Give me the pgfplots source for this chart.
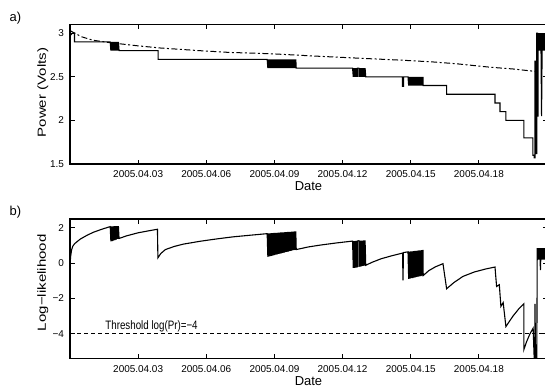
\documentclass[border=0pt]{standalone}
\usepackage{pgfplots}
\pgfplotsset{compat=1.18}
\usepackage{fontspec}
\setmainfont{Liberation Sans}
\begin{document}
\begin{tikzpicture}[x=1bp,y=1bp]
\useasboundingbox (0,0) rectangle (545,387);
\pgfplotsset{
  myax/.style={
    scale only axis, width=477bp, height=139.5bp,
    xmin=0, xmax=21,
    xtick={3,6,9,12,15,18},
    xticklabels={2005.04.03,2005.04.06,2005.04.09,2005.04.12,2005.04.15,2005.04.18},
    tick align=inside, major tick length=4.5bp,
    every tick/.style={black, line width=0.9bp},
    axis line style={line width=1.4bp},
    ticklabel style={font=\fontsize{10}{12}\selectfont},
    /pgf/number format/assume math mode=true,
    xticklabel style={anchor=base, yshift=-13.8bp},
    yticklabel style={anchor=east, xshift=-2.6bp},
    xlabel=Date,
    xlabel style={font=\fontsize{13}{15}\selectfont, at={(axis description cs:0.5,0)}, anchor=base, yshift=-26.8bp},
    ylabel style={font=\fontsize{11.8}{14}\selectfont, anchor=center},
    clip=true,
  }
}
% ---------------- a) ----------------
\begin{axis}[myax, at={(70bp,223bp)}, anchor=south west,
  ymin=1.5, ymax=3.1,
  ytick={1.5,2,2.5,3}, yticklabels={1.5,2,2.5,3},
  ylabel={\scalebox{1.28}[1]{Power (Volts)}},
  ylabel style={at={(axis description cs:-0.057,0.512)}},
]
\addplot[black, line width=1bp, dash pattern=on 6bp off 2.5bp on 2bp off 2.5bp] coordinates {
(0,3.03)(0.5,2.96)(1,2.92)(1.8,2.89)(3,2.855)(4,2.83)(5.7,2.80)(7,2.78)(8.8,2.765)(11,2.735)(13,2.71)(14.66,2.69)(16,2.67)(17,2.65)(18.5,2.61)(19.5,2.59)(20.55,2.56)
};
\addplot[black, line width=1.1bp] coordinates {
(0,2.97)(0.1,3.0)(0.2,3.0)(0.2,2.9)(1.77,2.9)
(1.80,2.8)(1.83,2.9)(1.86,2.8)(1.89,2.9)(1.92,2.8)(1.95,2.9)(1.98,2.8)(2.01,2.9)(2.04,2.8)(2.07,2.9)(2.10,2.8)(2.13,2.9)(2.16,2.8)
(3.88,2.8)(3.88,2.7)(8.68,2.7)
(8.71,2.6)(8.74,2.7)(8.77,2.6)(8.80,2.7)(8.83,2.6)(8.86,2.7)(8.89,2.6)(8.92,2.7)(8.95,2.6)(8.98,2.7)
(9.01,2.6)(9.04,2.7)(9.07,2.6)(9.10,2.7)(9.13,2.6)(9.16,2.7)(9.19,2.6)(9.22,2.7)(9.25,2.6)(9.28,2.7)
(9.31,2.6)(9.34,2.7)(9.37,2.6)(9.40,2.7)(9.43,2.6)(9.46,2.7)(9.49,2.6)(9.52,2.7)(9.55,2.6)(9.58,2.7)
(9.61,2.6)(9.64,2.7)(9.67,2.6)(9.70,2.7)(9.73,2.6)(9.76,2.7)(9.79,2.6)(9.82,2.7)(9.85,2.6)(9.88,2.7)
(9.91,2.6)(9.94,2.7)(9.96,2.6)
(12.44,2.6)
(12.47,2.5)(12.50,2.6)(12.53,2.5)(12.56,2.6)(12.59,2.5)(12.62,2.6)(12.65,2.5)(12.65,2.6)(12.72,2.6)
(12.72,2.5)(12.75,2.6)(12.78,2.5)(12.81,2.6)(12.84,2.5)(12.87,2.6)(12.90,2.5)(12.93,2.6)(12.96,2.5)(12.99,2.6)(13.02,2.5)
(14.64,2.5)(14.64,2.39)(14.68,2.39)(14.68,2.5)(14.88,2.5)
(14.91,2.4)(14.94,2.5)(14.97,2.4)(15.00,2.5)(15.03,2.4)(15.06,2.5)(15.09,2.4)(15.12,2.5)(15.15,2.4)(15.18,2.5)
(15.21,2.4)(15.24,2.5)(15.27,2.4)(15.30,2.5)(15.33,2.4)(15.36,2.5)(15.39,2.4)(15.42,2.5)(15.45,2.4)(15.48,2.5)
(15.51,2.4)(15.54,2.5)(15.55,2.4)
(16.58,2.4)(16.58,2.3)(18.71,2.3)(18.71,2.2)(18.93,2.2)(18.93,2.1)(19.19,2.1)(19.19,2.0)(19.98,2.0)(19.98,1.8)
(20.38,1.8)(20.38,1.6)(20.44,1.6)(20.44,1.57)(20.47,1.57)(20.47,2.68)(20.50,2.68)(20.50,1.62)(20.55,1.62)
(20.55,3.0)(20.58,3.0)(20.58,2.05)(20.61,2.05)(20.61,3.0)(20.64,2.8)(20.67,3.0)(20.70,2.8)(20.73,3.0)(20.76,2.05)
(20.79,3.0)(20.82,2.8)(20.85,3.0)(20.88,2.8)(20.91,3.0)(20.94,2.8)(20.97,3.0)
};
\end{axis}
% ---------------- b) ----------------
\begin{axis}[myax, at={(70bp,28.5bp)}, anchor=south west,
  ymin=-5.4, ymax=2.5,
  ytick={-4,-2,0,2}, yticklabels={−4,−2,0,2},
  ylabel={\scalebox{1.28}[1]{Log−likelihood}},
  ylabel style={at={(axis description cs:-0.057,0.543)}},
]
\addplot[black, line width=1bp, dash pattern=on 4bp off 3bp] coordinates {(0,-4)(21,-4)};
\addplot[black, line width=1.1bp] coordinates {
(0,-0.1)(0.03,0.4)(0.07,0.75)(0.12,0.95)(0.2,1.1)(0.45,1.36)(0.75,1.58)(1.03,1.75)(1.4,1.92)(1.77,2.07)
(1.80,1.23)(1.83,2.08)(1.86,1.25)(1.89,2.08)(1.92,1.28)(1.95,2.09)(1.98,1.31)(2.01,2.09)(2.04,1.34)(2.07,2.10)(2.10,1.37)(2.13,2.10)(2.16,1.40)
(2.5,1.55)(3.0,1.72)(3.5,1.84)(3.85,1.92)(3.87,0.30)(4.0,0.55)(4.2,0.77)(4.6,0.95)(5.0,1.08)(5.73,1.24)(6.5,1.38)(7.18,1.49)(8.0,1.59)(8.68,1.67)
(8.71,0.36)(8.74,1.686)(8.77,0.38)(8.80,1.69)(8.83,0.40)(8.86,1.697)(8.89,0.42)(8.92,1.70)(8.95,0.44)(8.98,1.708)
(9.01,0.46)(9.04,1.714)(9.07,0.48)(9.10,1.72)(9.13,0.50)(9.16,1.725)(9.19,0.52)(9.22,1.73)(9.25,0.54)(9.28,1.737)
(9.31,0.56)(9.34,1.742)(9.37,0.58)(9.40,1.748)(9.43,0.60)(9.46,1.754)(9.49,0.62)(9.52,1.76)(9.55,0.64)(9.58,1.765)
(9.61,0.66)(9.64,1.77)(9.67,0.68)(9.70,1.776)(9.73,0.70)(9.76,1.782)(9.79,0.72)(9.82,1.79)(9.85,0.74)(9.88,1.793)
(9.91,0.76)(9.94,1.80)(9.96,0.77)
(10.5,0.92)(11,1.02)(11.7,1.14)(12.44,1.25)
(12.47,-0.27)(12.50,1.25)(12.53,-0.26)(12.56,1.26)(12.59,-0.25)(12.62,1.26)(12.65,-0.24)(12.65,1.26)(12.72,1.27)
(12.72,-0.21)(12.75,1.27)(12.78,-0.20)(12.81,1.28)(12.84,-0.18)(12.87,1.28)(12.90,-0.16)(12.93,1.29)(12.96,-0.14)(12.99,1.29)(13.02,-0.12)
(13.3,0.05)(13.7,0.25)(14.2,0.43)(14.64,0.57)(14.66,-0.98)(14.68,0.60)(14.88,0.64)
(14.91,-0.89)(14.94,0.65)(14.97,-0.87)(15.00,0.66)(15.03,-0.85)(15.06,0.67)(15.09,-0.84)(15.12,0.68)(15.15,-0.82)(15.18,0.69)
(15.21,-0.80)(15.24,0.70)(15.27,-0.78)(15.30,0.71)(15.33,-0.76)(15.36,0.72)(15.39,-0.75)(15.42,0.73)(15.45,-0.73)(15.48,0.74)
(15.51,-0.71)(15.54,0.75)(15.55,-0.70)
(15.8,-0.42)(16.1,-0.2)(16.42,-0.03)(16.58,-1.45)(16.9,-1.1)(17.3,-0.75)(17.8,-0.5)(18.3,-0.33)(18.71,-0.22)
(18.78,-1.32)(18.90,-1.22)(18.97,-2.45)(19.07,-2.23)(19.19,-3.59)(19.5,-3.0)(19.75,-2.6)(19.98,-2.3)(19.98,-4.9)
(20.1,-4.45)(20.25,-4.0)(20.39,-3.68)(20.44,-5.6)(20.47,-5.6)(20.47,-2.3)(20.50,-5.6)(20.55,-5.6)
(20.57,0.85)(20.60,0.2)(20.62,0.85)(20.65,0.2)(20.68,0.85)(20.71,-0.4)(20.74,0.85)(20.77,0.2)(20.80,0.85)(20.83,0.2)(20.86,0.85)(20.89,0.2)(20.92,0.85)(20.95,0.2)
};
\node[anchor=base west, inner sep=0pt, font=\fontsize{9.8}{12}\selectfont] at (axis cs:1.55,-3.78) {\scalebox{1}[1.25]{Threshold log(Pr)=−4}};
\end{axis}
\node[font=\fontsize{13}{15}\selectfont] at (15.5,369) {a)};
\node[font=\fontsize{13}{15}\selectfont] at (15.5,174.5) {b)};
\end{tikzpicture}
\end{document}
